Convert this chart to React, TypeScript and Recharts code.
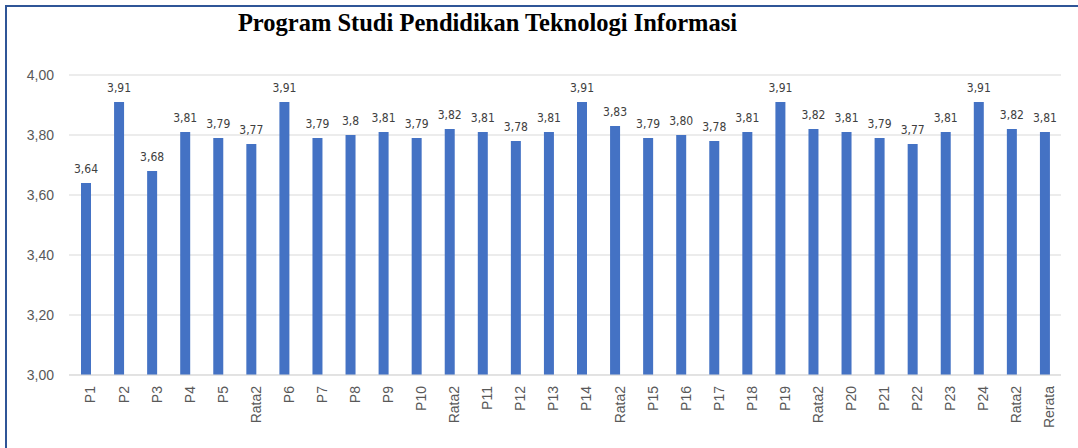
import { Bar, BarChart, CartesianGrid, LabelList, XAxis, YAxis } from "recharts";

const categories = [
  "P1", "P2", "P3", "P4", "P5", "Rata2", "P6", "P7", "P8", "P9", "P10", "Rata2",
  "P11", "P12", "P13", "P14", "Rata2", "P15", "P16", "P17", "P18", "P19", "Rata2",
  "P20", "P21", "P22", "P23", "P24", "Rata2", "Rerata",
];

const values = [
  3.64, 3.91, 3.68, 3.81, 3.79, 3.77, 3.91, 3.79, 3.8, 3.81, 3.79, 3.82,
  3.81, 3.78, 3.81, 3.91, 3.83, 3.79, 3.8, 3.78, 3.81, 3.91, 3.82,
  3.81, 3.79, 3.77, 3.81, 3.91, 3.82, 3.81,
];

const valueLabels = [
  "3,64", "3,91", "3,68", "3,81", "3,79", "3,77", "3,91", "3,79", "3,8", "3,81", "3,79", "3,82",
  "3,81", "3,78", "3,81", "3,91", "3,83", "3,79", "3,80", "3,78", "3,81", "3,91", "3,82",
  "3,81", "3,79", "3,77", "3,81", "3,91", "3,82", "3,81",
];

const yTicks = [3, 3.2, 3.4, 3.6, 3.8, 4];

const data = categories.map((name, i) => ({
  key: `${name}-${i}`,
  name,
  value: values[i],
  label: valueLabels[i],
}));

const W = 1078;
const H = 448;

export default function App() {
  return (
    <div
      style={{
        position: "absolute",
        left: 0,
        top: 0,
        width: W,
        height: H,
        background: "#fff",
        overflow: "hidden",
      }}
    >
      {/* frame edges */}
      <div
        style={{
          position: "absolute",
          left: 5,
          top: 5,
          right: 0,
          bottom: 0,
          borderLeft: "2px solid #2f5597",
          borderTop: "2px solid #2f5597",
        }}
      />
      <div
        style={{
          position: "absolute",
          top: 7,
          left: 0,
          width: 975,
          textAlign: "center",
          fontFamily: "'Liberation Serif', serif",
          fontWeight: "bold",
          fontSize: 24.5,
          lineHeight: "32px",
          color: "#000",
        }}
      >
        Program Studi Pendidikan Teknologi Informasi
      </div>
      <BarChart
        width={W}
        height={H}
        data={data}
        margin={{ top: 75, right: 17, left: 0, bottom: 0 }}
        style={{ position: "absolute", left: 0, top: 0 }}
      >
        <CartesianGrid vertical={false} stroke="#d9d9d9" />
        <XAxis
          dataKey="key"
          tickFormatter={(_v: string, i: number) => categories[i]}
          interval={0}
          height={73}
          angle={-90}
          textAnchor="end"
          tickLine={false}
          tickSize={0}
          tickMargin={15}
          stroke="#d9d9d9"
          tick={{ fill: "#595959", fontSize: 14, fontFamily: "'Liberation Sans', sans-serif", dy: -4 }}
        />
        <YAxis
          domain={[3, 4]}
          ticks={yTicks}
          width={69}
          axisLine={false}
          tickLine={false}
          tickSize={0}
          tickMargin={15}
          tickFormatter={(v: number) => v.toFixed(2).replace(".", ",")}
          tick={{ fill: "#595959", fontSize: 14, fontFamily: "'Liberation Sans', sans-serif" }}
        />
        <Bar dataKey="value" fill="#4472c4" barSize={10} isAnimationActive={false}>
          <LabelList
            dataKey="label"
            position="top"
            offset={10}
            fill="#404040"
            fontSize={12}
            fontFamily="'Liberation Sans Narrow', 'DejaVu Sans Condensed', sans-serif"
          />
        </Bar>
      </BarChart>
    </div>
  );
}
